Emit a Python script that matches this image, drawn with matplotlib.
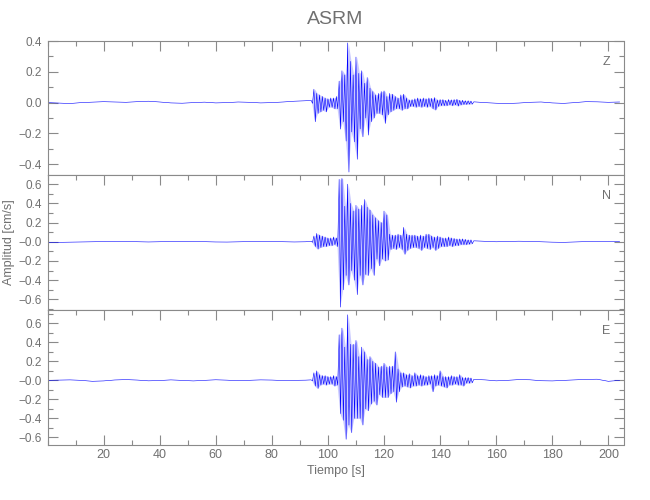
import matplotlib
matplotlib.use("Agg")
import matplotlib.pyplot as plt
from matplotlib.ticker import MultipleLocator, FixedLocator, FixedFormatter

plt.rcParams['font.family'] = ['Liberation Sans', 'DejaVu Sans']

title = "ASRM"
channels = ["Z", "N", "E"]
xlabel = "Tiempo [s]"
ylabel = "Amplitud [cm/s]"

# background (pre-event) samples, every 4 s
pre_t = list(range(0, 93, 4))
# event section, 1-s bins: peak (hi) and trough (lo)
evt_t = list(range(94, 152))
# background (post-event) samples, every 4 s
post_t = list(range(152, 205, 4))

Z_pre = [0.0, -0.003, -0.006, 0.0, 0.003, 0.006, 0.004, 0.002, 0.006, 0.009, 0.004, -0.002,
         -0.004, 0.0, 0.003, -0.002, 0.0, 0.004, 0.002, -0.002, 0.0, 0.004, 0.009, 0.012]
Z_hi = [0.015, 0.087, 0.06, 0.05, 0.04, 0.03, 0.025, 0.03, 0.03, 0.04,
        0.14, 0.207, 0.18, 0.388, 0.268, 0.18, 0.296, 0.19, 0.207, 0.126,
        0.163, 0.094, 0.072, 0.05, 0.06, 0.072, 0.076, 0.04, 0.06, 0.055,
        0.04, 0.03, 0.05, 0.055, 0.03, 0.017, 0.02, 0.025, 0.03, 0.025,
        0.03, 0.025, 0.03, 0.028, 0.033, 0.017, 0.02, 0.02, 0.015, 0.02,
        0.018, 0.02, 0.022, 0.015, 0.015, 0.012, 0.012, 0.01]
Z_lo = [-0.005, -0.124, -0.07, -0.06, -0.05, -0.06, -0.03, -0.03, -0.04, -0.04,
        -0.172, -0.124, -0.25, -0.451, -0.19, -0.255, -0.368, -0.17, -0.222, -0.10,
        -0.211, -0.124, -0.10, -0.07, -0.07, -0.08, -0.135, -0.08, -0.06, -0.05,
        -0.04, -0.04, -0.05, -0.04, -0.04, -0.025, -0.025, -0.03, -0.025, -0.03,
        -0.025, -0.03, -0.025, -0.04, -0.048, -0.025, -0.02, -0.02, -0.02, -0.015,
        -0.02, -0.015, -0.022, -0.015, -0.012, -0.012, -0.01, -0.01]
Z_post = [0.005, 0.0, -0.004, -0.006, -0.003, 0.002, 0.004, -0.002, -0.005, 0.0, 0.006, 0.005, 0.002, 0.004]

N_pre = [-0.005, -0.006, -0.004, -0.002, 0.0, 0.003, 0.004, 0.003, 0.0, -0.002, 0.0, 0.003,
         0.005, 0.004, 0.001, -0.002, -0.003, 0.0, 0.002, 0.004, 0.003, 0.0, -0.002, 0.0]
N_hi = [0.005, 0.06, 0.087, 0.07, 0.06, 0.05, 0.04, 0.04, 0.05, 0.04,
        0.65, 0.66, 0.37, 0.60, 0.40, 0.32, 0.38, 0.34, 0.38, 0.44,
        0.36, 0.33, 0.28, 0.25, 0.22, 0.20, 0.32, 0.28, 0.08, 0.07,
        0.07, 0.08, 0.07, 0.15, 0.08, 0.07, 0.07, 0.07, 0.06, 0.07,
        0.06, 0.08, 0.08, 0.06, 0.05, 0.06, 0.05, 0.04, 0.04, 0.05,
        0.04, 0.035, 0.03, 0.03, 0.03, 0.025, 0.02, 0.02]
N_lo = [-0.005, -0.05, -0.076, -0.06, -0.05, -0.05, -0.04, -0.04, -0.03, -0.05,
        -0.68, -0.50, -0.35, -0.45, -0.30, -0.40, -0.55, -0.35, -0.45, -0.34,
        -0.35, -0.28, -0.35, -0.18, -0.25, -0.18, -0.20, -0.19, -0.08, -0.07,
        -0.08, -0.06, -0.08, -0.13, -0.09, -0.07, -0.06, -0.06, -0.07, -0.09,
        -0.06, -0.07, -0.08, -0.06, -0.09, -0.07, -0.05, -0.05, -0.05, -0.04,
        -0.05, -0.04, -0.04, -0.03, -0.03, -0.03, -0.025, -0.02]
N_post = [0.01, 0.005, 0.0, 0.003, 0.006, 0.004, 0.0, -0.004, -0.006, -0.002, 0.002, 0.003, 0.001, 0.002]

E_pre = [0.0, 0.003, 0.005, 0.0, -0.01, -0.006, 0.004, 0.008, 0.003, -0.005, -0.002, 0.005,
         0.0, -0.006, 0.0, 0.006, 0.002, -0.004, 0.0, 0.005, 0.003, -0.002, 0.0, 0.002]
E_hi = [0.005, 0.08, 0.10, 0.06, 0.05, 0.05, 0.04, 0.04, 0.05, 0.04,
        0.48, 0.55, 0.35, 0.69, 0.38, 0.38, 0.42, 0.25, 0.35, 0.30,
        0.22, 0.25, 0.20, 0.18, 0.14, 0.15, 0.18, 0.14, 0.15, 0.15,
        0.30, 0.12, 0.08, 0.08, 0.06, 0.07, 0.05, 0.08, 0.05, 0.06,
        0.05, 0.04, 0.05, 0.05, 0.06, 0.05, 0.10, 0.04, 0.04, 0.04,
        0.05, 0.04, 0.04, 0.06, 0.03, 0.03, 0.03, 0.025]
E_lo = [-0.005, -0.06, -0.085, -0.05, -0.04, -0.05, -0.04, -0.04, -0.06, -0.05,
        -0.35, -0.42, -0.62, -0.47, -0.55, -0.40, -0.40, -0.40, -0.47, -0.30,
        -0.32, -0.25, -0.22, -0.26, -0.15, -0.18, -0.18, -0.18, -0.14, -0.12,
        -0.23, -0.12, -0.07, -0.06, -0.07, -0.08, -0.06, -0.06, -0.05, -0.06,
        -0.05, -0.05, -0.04, -0.12, -0.06, -0.05, -0.06, -0.07, -0.08, -0.05,
        -0.05, -0.04, -0.05, -0.05, -0.06, -0.03, -0.03, -0.025]
E_post = [0.01, 0.005, -0.005, 0.0, 0.008, 0.006, -0.004, -0.006, 0.0, 0.005, 0.01, 0.012, -0.01, 0.0]

ylims = [(-0.47, 0.40), (-0.71, 0.695), (-0.68, 0.74)]
Z_ticks = [-0.4, -0.2, 0.0, 0.2, 0.4]
Z_ticklabels = ["\u22120.4", "\u22120.2", "0.0", "0.2", "0.4"]
NE_ticks = [-0.6, -0.4, -0.2, 0.0, 0.2, 0.4, 0.6]
NE_ticklabels = ["\u22120.6", "\u22120.4", "\u22120.2", "\u22120.0", "0.2", "0.4", "0.6"]
x_ticks = [20, 40, 60, 80, 100, 120, 140, 160, 180, 200]

series = [(Z_pre, Z_hi, Z_lo, Z_post), (N_pre, N_hi, N_lo, N_post), (E_pre, E_hi, E_lo, E_post)]
yt = [(Z_ticks, Z_ticklabels), (NE_ticks, NE_ticklabels), (NE_ticks, NE_ticklabels)]

gray = "#8a8a8a"
tcol = "#707070"
blue = "#0000ff"

fig = plt.figure(figsize=(6.5, 5.0), dpi=100)
left, width = 47.5 / 650, 576 / 650
panel_tops = [41, 175, 310]
panel_h = [134, 135, 135]

for i, (pre, hi, lo, post) in enumerate(series):
    top = panel_tops[i]
    h = panel_h[i]
    ax = fig.add_axes([left, 1 - (top + h) / 500, width, h / 500])
    zx, zy = [], []
    for t, a, b in zip(evt_t, hi, lo):
        zx += [t, t + 0.5]
        zy += [a, b]
    xs = pre_t + zx + post_t
    ys = pre + zy + post
    ax.fill_between([t + 0.25 for t in evt_t], lo, hi, color="#a8a8ff", lw=0, alpha=0.6)
    ax.plot(xs, ys, color=blue, lw=0.4)
    ax.set_xlim(0, 205.4)
    ax.set_ylim(*ylims[i])
    ax.xaxis.set_major_locator(FixedLocator(x_ticks))
    ax.xaxis.set_minor_locator(MultipleLocator(10))
    ax.yaxis.set_major_locator(FixedLocator(yt[i][0]))
    ax.yaxis.set_major_formatter(FixedFormatter(yt[i][1]))
    ax.yaxis.set_minor_locator(MultipleLocator(0.1))
    last = (i == 2)
    ax.tick_params(axis='x', which='both', direction='in', top=True, bottom=last,
                   labelbottom=last, colors=gray, labelcolor=tcol, labelsize=9, pad=3)
    ax.tick_params(axis='y', which='both', direction='in', left=True, right=True,
                   colors=gray, labelcolor=tcol, labelsize=8.5, pad=4)
    ax.tick_params(which='major', length=7, width=0.8)
    ax.tick_params(which='minor', length=3.6, width=0.8)
    for s in ax.spines.values():
        s.set_color(gray)
        s.set_linewidth(0.8)
    ax.text(0.97, 0.845, channels[i], transform=ax.transAxes, ha='center', va='center',
            color=tcol, fontsize=9)

fig.text(335.5 / 650, 1 - 19 / 500, title, ha='center', va='center', color=tcol, fontsize=14)
fig.text(9 / 650, 1 - 242 / 500, ylabel, ha='center', va='center', rotation=90,
         color=tcol, fontsize=9)
fig.text(335.5 / 650, 1 - 471 / 500, xlabel, ha='center', va='center', color=tcol, fontsize=9)

fig.savefig("out.png", dpi=100)
